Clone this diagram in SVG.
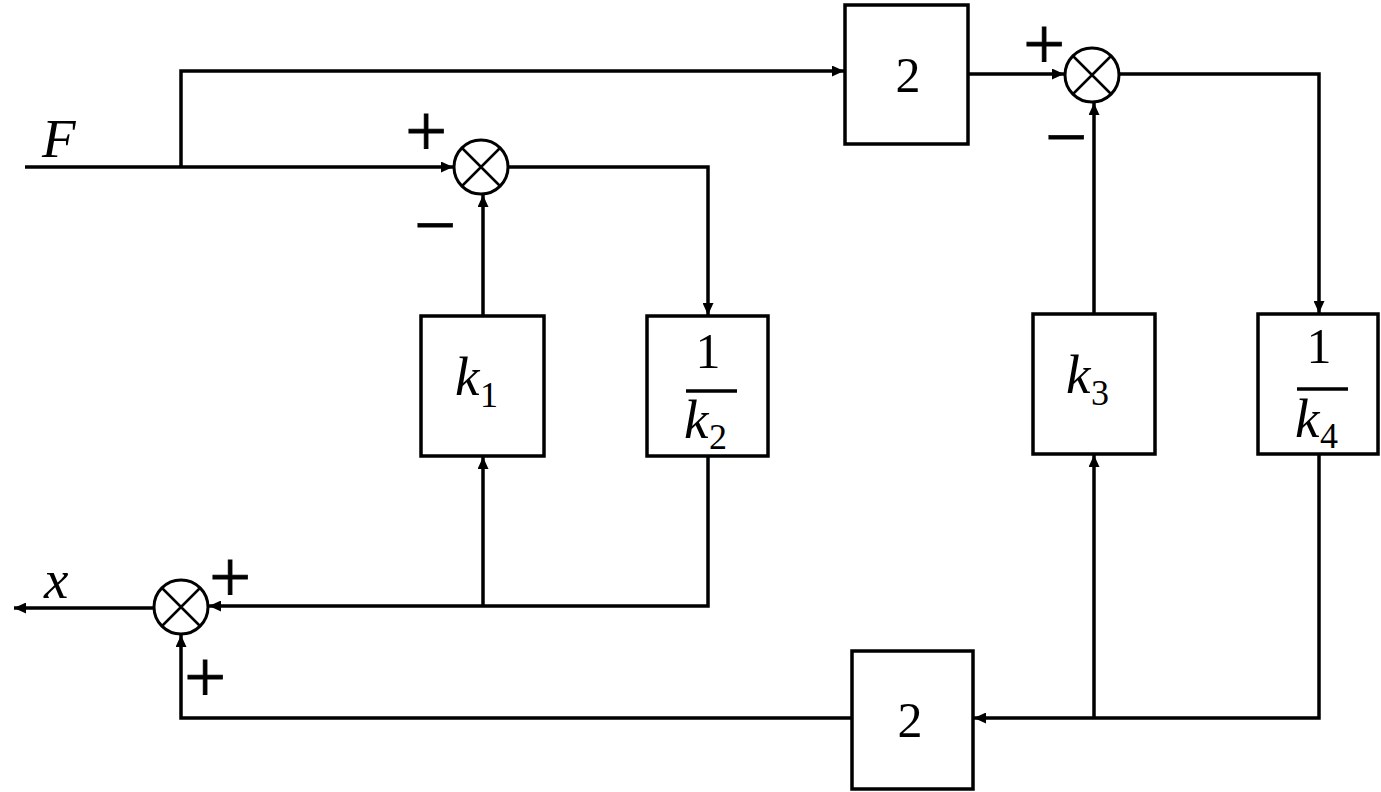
<svg xmlns="http://www.w3.org/2000/svg" width="1381" height="792" viewBox="0 0 1381 792">
<style>
.blk{fill:#fff;stroke:#000;stroke-width:3.5}
.sum{fill:#fff;stroke:#000;stroke-width:3}
.x{stroke:#000;stroke-width:2.5}
.w{fill:none;stroke:#000;stroke-width:3.5}
.num{font-family:"Liberation Serif",serif;font-size:50px;fill:#000}
.var{font-family:"Liberation Serif",serif;font-style:italic;font-size:55px;fill:#000}
.sub{font-family:"Liberation Serif",serif;font-size:36px;fill:#000}
.sg{font-family:"Liberation Serif",serif;font-size:74px;fill:#000;stroke:#000;stroke-width:0.9;text-anchor:middle}
</style>
<defs>
<marker id="a" viewBox="0 0 12 11" refX="12" refY="5.5" markerWidth="12" markerHeight="11" markerUnits="userSpaceOnUse" orient="auto">
<path d="M0,0 L12,5.5 L0,11 z" fill="#000"/>
</marker>
</defs>
<g id="connectors">
<path class="w" d="M25,167 H453" marker-end="url(#a)"/>
<path class="w" d="M181,167 V71 H844" marker-end="url(#a)"/>
<path class="w" d="M508,167 H708 V315" marker-end="url(#a)"/>
<path class="w" d="M483,316 V195" marker-end="url(#a)"/>
<path class="w" d="M708,456 V606 H209" marker-end="url(#a)"/>
<path class="w" d="M483,606 V457" marker-end="url(#a)"/>
<path class="w" d="M968,74 H1064" marker-end="url(#a)"/>
<path class="w" d="M1119,74 H1319 V313" marker-end="url(#a)"/>
<path class="w" d="M1094,314 V103" marker-end="url(#a)"/>
<path class="w" d="M1319,454 V718 H974" marker-end="url(#a)"/>
<path class="w" d="M1094,718 V455" marker-end="url(#a)"/>
<path class="w" d="M852,718 H181 V635" marker-end="url(#a)"/>
<path class="w" d="M154,608 H14" marker-end="url(#a)"/>
</g>
<g id="label-F"><text class="var" x="42" y="157">F</text></g>
<g id="label-x"><text class="var" x="44" y="598">x</text></g>
<g id="sum1">
<circle class="sum" cx="481" cy="167" r="27"/>
<path class="x" d="M462,148 L500,186 M500,148 L462,186"/>
<text class="sg" x="426" y="156">+</text>
<text class="sg" x="435" y="250">−</text>
</g>
<g id="sum2">
<circle class="sum" cx="1092" cy="75" r="27"/>
<path class="x" d="M1073,56 L1111,94 M1111,56 L1073,94"/>
<text class="sg" x="1044" y="69">+</text>
<text class="sg" x="1066" y="162">−</text>
</g>
<g id="sum3">
<circle class="sum" cx="181" cy="607" r="27"/>
<path class="x" d="M162,588 L200,626 M200,588 L162,626"/>
<text class="sg" x="230" y="602">+</text>
<text class="sg" x="205" y="702">+</text>
</g>
<g id="block-2-top">
<rect class="blk" x="845" y="5" width="123" height="139"/>
<text class="num" x="908" y="92" text-anchor="middle">2</text>
</g>
<g id="block-2-bottom">
<rect class="blk" x="852" y="651" width="121" height="138"/>
<text class="num" x="910" y="737" text-anchor="middle">2</text>
</g>
<g id="block-k1">
<rect class="blk" x="421" y="316" width="123" height="140"/>
<text class="var" x="455" y="395">k</text><text class="sub" x="480" y="407">1</text>
</g>
<g id="block-1-k2">
<rect class="blk" x="647" y="316" width="121" height="140"/>
<text class="num" x="708" y="368" text-anchor="middle">1</text>
<path class="w" d="M686,391 H737"/>
<text class="var" x="684" y="438">k</text><text class="sub" x="709" y="449">2</text>
</g>
<g id="block-k3">
<rect class="blk" x="1033" y="314" width="122" height="140"/>
<text class="var" x="1066" y="393">k</text><text class="sub" x="1091" y="405">3</text>
</g>
<g id="block-1-k4">
<rect class="blk" x="1258" y="314" width="120" height="140"/>
<text class="num" x="1319" y="363" text-anchor="middle">1</text>
<path class="w" d="M1297,389 H1348"/>
<text class="var" x="1295" y="437">k</text><text class="sub" x="1320" y="448">4</text>
</g>
</svg>
